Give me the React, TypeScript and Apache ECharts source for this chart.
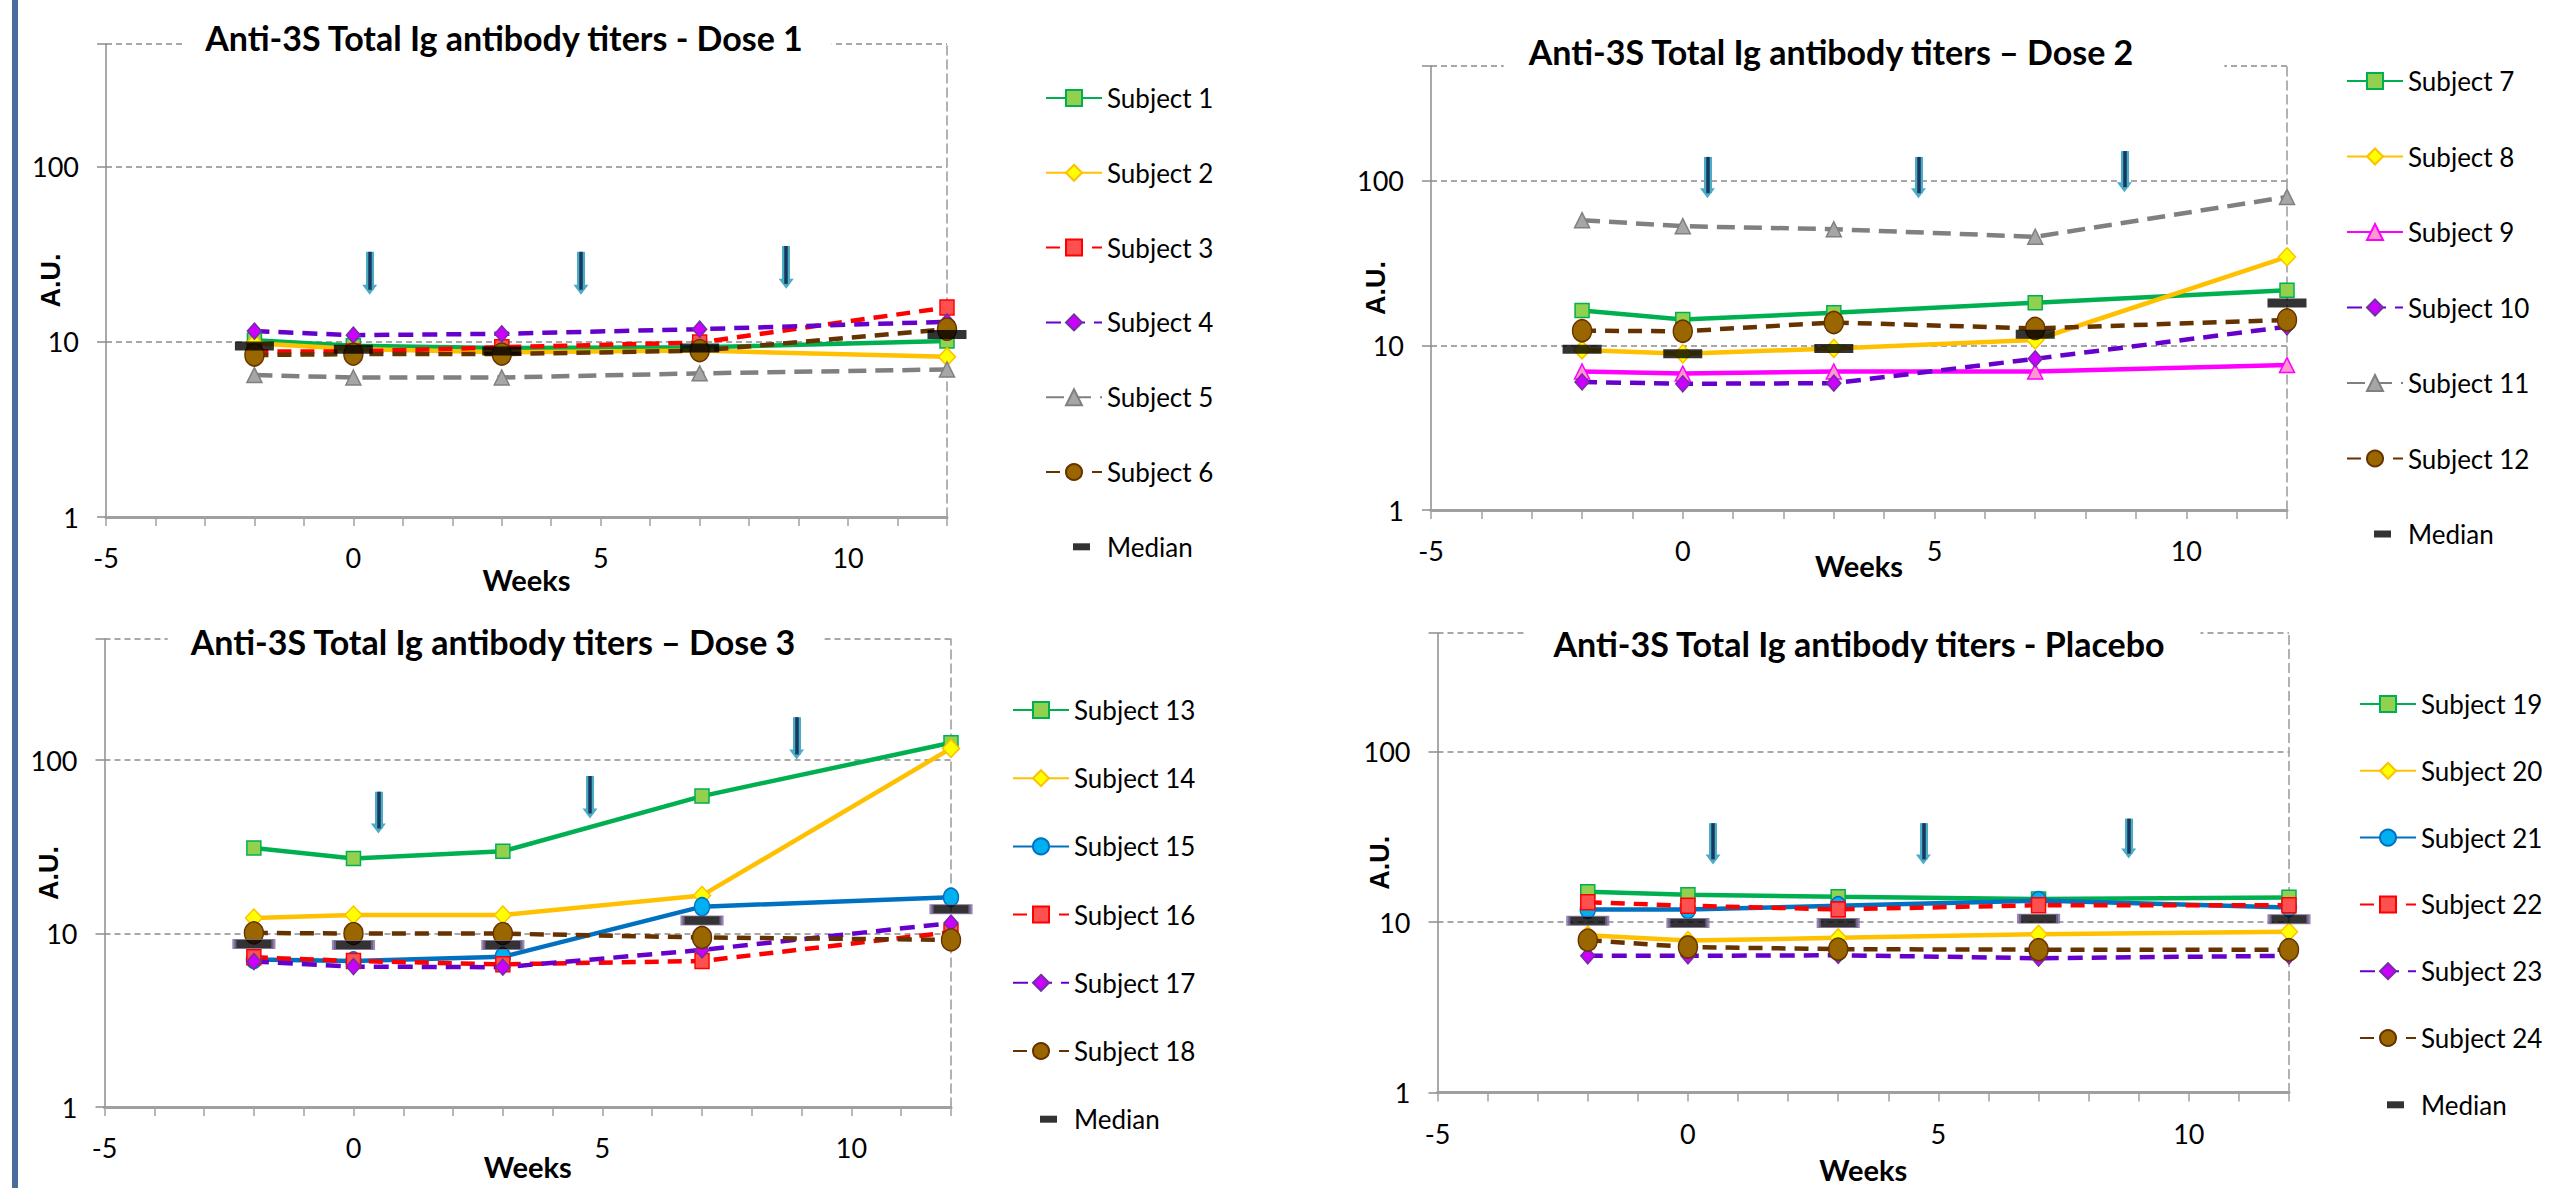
import React, { useEffect, useRef } from 'react';
import * as echarts from 'echarts';

// ---------- data ----------
const weeks = [-2, 0, 3, 7, 12];
const xTickLabels = [-5, 0, 5, 10];
const yTickLabels = [1, 10, 100];

const titles = [
  'Anti-3S Total Ig antibody titers - Dose 1',
  'Anti-3S Total Ig antibody titers \u2013 Dose 2',
  'Anti-3S Total Ig antibody titers \u2013 Dose 3',
  'Anti-3S Total Ig antibody titers - Placebo',
];

const dose1Names = ['Subject 1', 'Subject 2', 'Subject 3', 'Subject 4', 'Subject 5', 'Subject 6'];
const subject1 = [10.2, 9.5, 9.2, 9.3, 10.1];
const subject2 = [9.8, 9.1, 8.7, 8.9, 8.2];
const subject3 = [8.8, 8.8, 9.3, 9.9, 15.7];
const subject4 = [11.5, 10.9, 11.1, 11.8, 13.0];
const subject5 = [6.45, 6.25, 6.25, 6.6, 6.95];
const subject6 = [8.4, 8.5, 8.5, 8.9, 11.8];
const median1 = [9.45, 9.05, 8.85, 9.2, 11.0];

const dose2Names = ['Subject 7', 'Subject 8', 'Subject 9', 'Subject 10', 'Subject 11', 'Subject 12'];
const subject7 = [16.3, 14.4, 15.8, 18.2, 21.7];
const subject8 = [9.4, 8.9, 9.6, 10.8, 34.6];
const subject9 = [6.95, 6.75, 6.95, 6.95, 7.6];
const subject10 = [6.0, 5.85, 5.9, 8.3, 13.0];
const subject11 = [57.8, 53.1, 50.9, 45.8, 80.0];
const subject12 = [12.3, 12.2, 13.8, 12.7, 14.3];
const median2 = [9.5, 8.9, 9.6, 11.7, 18.1];

const dose3Names = ['Subject 13', 'Subject 14', 'Subject 15', 'Subject 16', 'Subject 17', 'Subject 18'];
const subject13 = [31.2, 27.1, 29.8, 62.1, 126];
const subject14 = [12.3, 12.8, 12.8, 16.6, 117];
const subject15 = [7.1, 6.95, 7.35, 14.3, 16.2];
const subject16 = [7.3, 6.95, 6.65, 6.95, 10.2];
const subject17 = [6.9, 6.45, 6.4, 8.05, 11.5];
const subject18 = [10.1, 10.0, 10.0, 9.5, 9.2];
const median3 = [8.7, 8.6, 8.6, 11.9, 13.8];

const placeboNames = ['Subject 19', 'Subject 20', 'Subject 21', 'Subject 22', 'Subject 23', 'Subject 24'];
const subject19 = [15.1, 14.5, 14.1, 13.7, 14.0];
const subject20 = [8.4, 7.8, 8.1, 8.5, 8.8];
const subject21 = [11.9, 11.9, 12.5, 13.4, 12.2];
const subject22 = [13.1, 12.5, 11.9, 12.6, 12.6];
const subject23 = [6.35, 6.35, 6.4, 6.15, 6.35];
const subject24 = [7.85, 7.15, 6.95, 6.9, 6.9];
const median4 = [10.2, 9.9, 9.9, 10.5, 10.4];

// dose arrows: [week, top value, head value]
const arrows1 = [[0.33, 32.6, 19.8], [4.6, 32.6, 19.8], [8.75, 35.2, 21.4]];
const arrows2 = [[0.49, 140, 84.3], [4.68, 140, 84.3], [8.77, 152, 91.7]];
const arrows3 = [[0.5, 65.8, 40.4], [4.75, 81.1, 49.3], [8.9, 177, 108]];
const arrows4 = [[0.5, 38.2, 23.4], [4.7, 38.2, 23.4], [8.8, 40.6, 25.3]];

const styleKeys1 = ['green', 'gold', 'red', 'purple', 'gray', 'brown'];
const styleKeys2 = ['green', 'gold', 'magenta', 'purple', 'gray', 'brown'];
const styleKeys3 = ['green', 'gold', 'blue', 'red', 'purple', 'brown'];
const styleKeys4 = ['green', 'gold', 'blue', 'red', 'purple', 'brown'];

// ---------- styles ----------
const STYLES: Record<string, any> = {
  green: { line: '#00B050', fill: '#92D050', border: '#00B050', symbol: 'rect', size: [14, 14], dash: null },
  gold: { line: '#FFC000', fill: '#FFFF00', border: '#FFC000', symbol: 'diamond', size: [17, 18], dash: null },
  red: { line: '#FF0000', fill: '#FF5050', border: '#FF0000', symbol: 'rect', size: [14, 15], dash: [14, 9] },
  purple: { line: '#6600CC', fill: '#CC00FF', border: '#7030A0', symbol: 'diamond', size: [14, 16], dash: [15, 9] },
  gray: { line: '#808080', fill: '#A6A6A6', border: '#808080', symbol: 'triangle', size: [15, 15], dash: [18, 9] },
  brown: { line: '#663300', fill: '#996600', border: '#663300', symbol: 'circle', size: [19, 22], dash: [14, 9] },
  magenta: { line: '#FF00FF', fill: '#FF99CC', border: '#FF00FF', symbol: 'triangle', size: [15, 15], dash: null },
  blue: { line: '#0070C0', fill: '#00B0F0', border: '#0070C0', symbol: 'circle', size: [15, 18], dash: null },
};

const TITLE_LH = 40;
const LAYOUT = [
  { left: 106, top: 44, width: 841, height: 473, titleX: 504, titleY: 37, padL: 21, padR: 28, legendLeft: 1045, legendTop: 85, pitch: 68.8, weeksGap: 48, auGap: 42, medianBorder: null },
  { left: 1431, top: 66, width: 856, height: 444, titleX: 1831, titleY: 51.5, padL: 24, padR: 90, legendLeft: 2346, legendTop: 68, pitch: 69.5, weeksGap: 41, auGap: 42, medianBorder: null },
  { left: 104.5, top: 639, width: 846.5, height: 468, titleX: 493, titleY: 641.5, padL: 22, padR: 28, legendLeft: 1012, legendTop: 697, pitch: 62.2, weeksGap: 45, auGap: 42, medianBorder: '#7F6A9E' },
  { left: 1437.5, top: 633, width: 851.5, height: 459.5, titleX: 1859, titleY: 643.4, padL: 27, padR: 35, legendLeft: 2359, legendTop: 691, pitch: 60.8, weeksGap: 62, auGap: 44, medianBorder: '#7F6A9E' },
];

const MEDIAN_ICON = 'path://M0,0M56,20M27,6.5h17v7h-17z';

function buildOption() {
  const panels = [
    { names: dose1Names, values: [subject1, subject2, subject3, subject4, subject5, subject6], keys: styleKeys1, median: median1, arrows: arrows1 },
    { names: dose2Names, values: [subject7, subject8, subject9, subject10, subject11, subject12], keys: styleKeys2, median: median2, arrows: arrows2 },
    { names: dose3Names, values: [subject13, subject14, subject15, subject16, subject17, subject18], keys: styleKeys3, median: median3, arrows: arrows3 },
    { names: placeboNames, values: [subject19, subject20, subject21, subject22, subject23, subject24], keys: styleKeys4, median: median4, arrows: arrows4 },
  ];

  const grid: any[] = [];
  const xAxis: any[] = [];
  const yAxis: any[] = [];
  const series: any[] = [];
  const legend: any[] = [];
  const title: any[] = [];

  panels.forEach((p, i) => {
    const L = LAYOUT[i];
    grid.push({ left: L.left, top: L.top, width: L.width, height: L.height, containLabel: false, outerBoundsMode: 'none' });
    xAxis.push({
      gridIndex: i, type: 'value', min: -5, max: 12, interval: 1, position: 'bottom',
      axisLine: { show: true, onZero: false, lineStyle: { color: '#a0a0a0', width: 3 } },
      axisTick: { show: true, length: 9, lineStyle: { color: '#a0a0a0', width: 1.5 } },
      axisLabel: {
        show: true, margin: 27, fontFamily: 'Lato', fontSize: 27, color: '#000',
        formatter: (v: number) => (xTickLabels.includes(v) ? String(v) : ''),
        showMinLabel: true, showMaxLabel: true, hideOverlap: false,
      },
      splitLine: { show: false },
      name: 'Weeks', nameLocation: 'middle', nameGap: L.weeksGap, nameMoveOverlap: false,
      nameTextStyle: { fontFamily: 'Lato', fontWeight: 'bold', fontSize: 29, color: '#000' },
    });
    yAxis.push({
      gridIndex: i, type: 'log', logBase: 10, min: 1, max: 500, position: 'left',
      axisLine: { show: true, onZero: false, lineStyle: { color: '#8c8c8c', width: 1.5 } },
      axisTick: { show: true, length: 9, lineStyle: { color: '#8c8c8c', width: 1.5 } },
      axisLabel: {
        show: true, margin: 27, fontFamily: 'Lato', fontSize: 27, color: '#000',
        formatter: (v: number) => (yTickLabels.includes(Math.round(v)) ? String(Math.round(v)) : ''),
        showMinLabel: true, showMaxLabel: true, hideOverlap: false,
      },
      splitLine: { show: true, lineStyle: { color: '#8c8c8c', width: 1.5, type: [6, 4] } },
      name: 'A.U.', nameLocation: 'middle', nameGap: L.auGap, nameMoveOverlap: false,
      nameTextStyle: { fontFamily: 'Liberation Sans', fontWeight: 'bold', fontSize: 27, color: '#000' },
    });
    yAxis.push({
      gridIndex: i, type: 'value', min: 0, max: 1, position: 'right',
      axisLine: { show: true, onZero: false, lineStyle: { color: '#999999', width: 1.5, type: [9, 5] } },
      axisTick: { show: false }, axisLabel: { show: false }, splitLine: { show: false },
    });

    p.values.forEach((vals, k) => {
      const s = STYLES[p.keys[k]];
      series.push({
        type: 'line', name: p.names[k], xAxisIndex: i, yAxisIndex: 2 * i,
        data: weeks.map((w, j) => [w, vals[j]]),
        symbol: s.symbol, symbolSize: s.size, showSymbol: true, clip: false,
        itemStyle: { color: s.fill, borderColor: s.border, borderWidth: 1.5 },
        lineStyle: { color: s.line, width: 4.5, type: s.dash ? s.dash : 'solid' },
        emphasis: { disabled: true }, z: 2,
      });
    });

    const outer = p.arrows.map((a) => [
      { coord: [a[0], a[1]], symbol: 'none', lineStyle: { color: '#4BACC6', width: 8, type: 'solid' } },
      { coord: [a[0], a[2]], symbol: 'triangle', symbolSize: [15, 10] },
    ]);
    const inner = p.arrows.map((a) => [
      { coord: [a[0], a[1]], symbol: 'none', lineStyle: { color: '#17375E', width: 3.5, type: 'solid' } },
      { coord: [a[0], a[2]], symbol: 'none' },
    ]);

    series.push({
      type: 'scatter', name: 'Median', xAxisIndex: i, yAxisIndex: 2 * i,
      data: weeks.map((w, j) => [w, p.median[j]]),
      symbol: 'rect', symbolSize: [39, 9], clip: false,
      itemStyle: L.medianBorder
        ? { color: '#000', borderColor: L.medianBorder, borderWidth: 2 }
        : { color: '#000', borderWidth: 0 },
      emphasis: { disabled: true }, z: 3,
      markLine: {
        silent: true, animation: false, symbol: ['none', 'none'],
        label: { show: false }, emphasis: { disabled: true },
        data: [...outer, ...inner],
      },
    });

    legend.push({
      orient: 'vertical', left: L.legendLeft, top: L.legendTop, padding: 0,
      itemWidth: 56, itemHeight: 20, itemGap: L.pitch - 20, selectedMode: false,
      textStyle: { fontFamily: 'Lato', fontSize: 26, color: '#000', lineHeight: 20 },
      data: [...p.names, { name: 'Median', icon: MEDIAN_ICON }],
    });

    title.push({
      text: titles[i], textAlign: 'center',
      left: L.titleX - L.padL, top: L.titleY - 4 - TITLE_LH / 2,
      padding: [4, L.padR, 8, L.padL], backgroundColor: '#ffffff',
      textStyle: { fontFamily: 'Lato', fontWeight: 'bold', fontSize: 34, color: '#000', lineHeight: TITLE_LH },
    });
  });

  return {
    animation: false,
    backgroundColor: '#ffffff',
    title, legend, grid, xAxis, yAxis, series,
    graphic: [
      { type: 'rect', shape: { x: 12, y: 0, width: 6, height: 1188 }, style: { fill: '#4A6B9C' }, z: 10 },
    ],
  };
}

export default function App() {
  const ref = useRef<HTMLDivElement>(null);
  useEffect(() => {
    if (!ref.current) return;
    const chart = echarts.init(ref.current, null, { renderer: 'svg' });
    chart.setOption(buildOption() as any);
    return () => chart.dispose();
  }, []);
  return (
    <div
      ref={ref}
      style={{ position: 'absolute', left: 0, top: 0, width: 2556, height: 1188, background: '#fff' }}
    />
  );
}
